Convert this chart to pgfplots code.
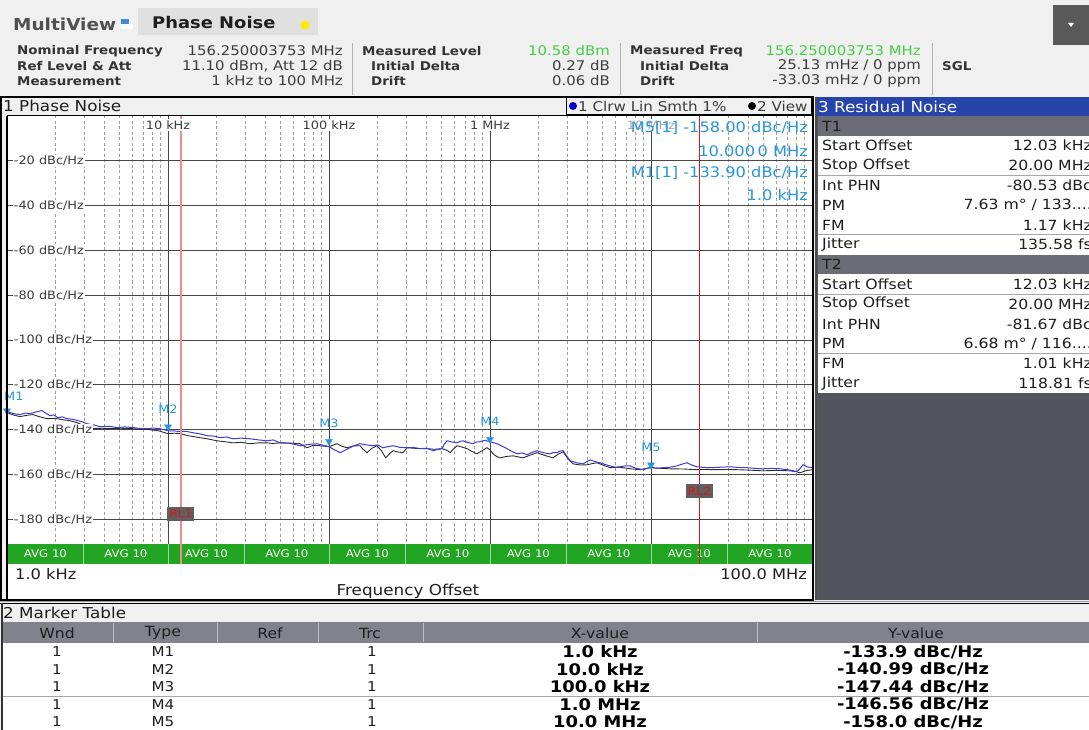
\documentclass[border=0pt]{standalone}
\usepackage{fontspec}
\setmainfont{DejaVu Sans}[FakeStretch=1.12]
\usepackage{pgfplots}
\usepackage{pgfplotstable}
\pgfplotsset{compat=1.18}
\newcommand{\fs}[1]{\fontsize{#1}{#1}\selectfont}
\definecolor{bg}{RGB}{240,240,240}
\definecolor{tabbg}{RGB}{224,224,224}
\definecolor{mvgray}{RGB}{80,80,80}
\definecolor{txt}{RGB}{30,30,30}
\definecolor{val}{RGB}{60,60,60}
\definecolor{grn}{RGB}{70,205,70}
\definecolor{resblue}{RGB}{38,68,170}
\definecolor{hdrgray}{RGB}{108,108,118}
\definecolor{panelgray}{RGB}{84,84,94}
\definecolor{avg}{RGB}{34,165,34}
\definecolor{mk}{RGB}{40,150,220}
\definecolor{tr1}{RGB}{60,60,220}
\definecolor{tr2}{RGB}{45,45,45}
\definecolor{pinkred}{RGB}{240,140,140}
\definecolor{rlred}{RGB}{215,25,25}
\definecolor{rlbox}{RGB}{95,95,95}

\pgfplotstableread{
f v
1000 -132.0
1100 -132.9
1204 -133.3
1300 -132.6
1390 -132.9
1500 -132.2
1650 -131.5
1750 -132.8
1849 -133.8
1950 -133.4
2074 -134.7
2200 -134.3
2359 -135.1
2550 -135.4
2761 -136.0
2950 -136.6
3140 -137.4
3450 -137.9
3781 -138.7
4300 -138.5
4823 -139.1
5400 -138.8
6062 -139.1
6700 -139.5
7405 -139.6
8100 -139.3
8918 -139.6
10000 -140.5
11000 -140.6
11870 -140.9
13000 -140.8
14300 -141.4
15800 -141.9
17470 -142.7
19200 -142.9
21040 -143.6
23000 -143.3
25330 -144.1
28500 -143.8
32300 -144.1
36500 -144.6
41200 -145.0
45000 -144.6
49630 -145.9
57000 -146.1
66060 -147.2
75000 -146.6
84220 -146.3
92000 -147.0
100000 -147.6
108000 -149.0
117000 -150.3
126000 -149.2
135000 -148.1
145000 -147.0
155800 -146.3
170000 -146.8
187600 -147.2
200000 -146.8
216500 -148.1
232000 -147.6
249800 -147.2
275000 -147.9
305100 -148.1
335000 -148.0
367600 -148.5
405000 -148.3
442600 -149.4
475000 -148.9
503400 -148.5
520000 -146.5
540700 -145.0
580000 -145.5
623700 -145.9
650000 -145.3
679600 -145.0
730000 -145.8
784400 -146.3
820000 -145.6
866800 -145.4
930000 -144.8
1000000 -145.4
1105000 -146.3
1190000 -147.4
1275000 -148.5
1370000 -149.8
1472000 -150.8
1580000 -150.4
1698000 -151.2
1820000 -150.2
1959000 -149.4
2045000 -149.9
2200000 -150.5
2359000 -150.8
2480000 -150.2
2607000 -150.3
2720000 -149.6
2841000 -149.4
2980000 -151.5
3140000 -153.9
3450000 -154.8
3781000 -155.3
4180000 -153.5
4500000 -154.3
4823000 -154.8
5200000 -155.6
5564000 -156.2
6000000 -156.8
6419000 -156.6
6900000 -156.2
7405000 -156.2
8100000 -157.3
8918000 -157.9
9500000 -157.2
10000000 -156.8
10900000 -157.3
11870000 -157.0
13100000 -156.8
14500000 -156.2
15600000 -155.4
16740000 -154.8
18000000 -155.9
19310000 -156.6
21200000 -156.9
23260000 -157.0
27000000 -156.8
30950000 -156.6
35000000 -156.9
39470000 -157.0
44000000 -157.3
49630000 -157.5
56000000 -157.3
63270000 -157.5
72000000 -158.0
80700000 -158.8
84000000 -157.5
87930000 -155.7
93000000 -156.6
100000000 -157.0
}\traceone

\pgfplotstableread{
f v
1000 -132.4
1100 -133.5
1204 -134.2
1330 -133.6
1450 -133.3
1600 -134.3
1772 -135.1
2000 -135.0
2228 -135.6
2450 -136.0
2722 -136.9
3050 -138.4
3421 -139.6
3900 -139.4
4363 -139.6
5100 -139.4
6062 -139.6
6900 -139.8
7730 -140.0
8800 -140.6
10000 -141.8
11000 -141.6
11870 -141.8
13500 -142.8
15800 -143.6
17800 -144.2
20150 -145.0
22500 -145.4
25330 -145.9
28500 -145.7
32300 -146.3
36500 -145.9
41200 -145.9
45000 -146.2
49630 -145.9
57000 -146.0
66060 -146.3
73000 -148.1
80000 -147.0
87900 -147.2
100000 -147.6
112100 -146.3
120000 -147.4
129300 -148.1
142000 -147.3
155800 -147.2
163000 -148.8
172200 -150.3
185000 -148.3
198700 -147.2
212000 -149.5
225000 -152.6
240000 -150.5
250000 -149.4
268000 -150.0
288100 -150.3
305100 -148.1
350000 -148.4
406200 -148.5
450000 -148.8
503400 -148.5
540000 -149.2
564300 -150.3
595000 -148.6
623700 -147.2
670000 -147.8
719500 -148.5
775000 -149.8
830000 -150.8
890000 -149.5
957000 -148.1
1000000 -149.0
1044000 -150.8
1100000 -152.0
1153000 -152.6
1260000 -152.0
1390000 -151.7
1500000 -152.2
1603000 -152.6
1760000 -151.5
1959000 -150.3
2045000 -150.8
2250000 -151.8
2461000 -152.6
2650000 -151.0
2841000 -149.9
3050000 -153.0
3278000 -155.3
3650000 -155.8
4004000 -155.7
4300000 -155.2
4620000 -154.8
5100000 -156.0
5564000 -157.0
6100000 -156.8
6700000 -157.0
7500000 -157.5
8550000 -157.9
9300000 -157.4
10000000 -157.0
11500000 -157.3
13120000 -157.5
16000000 -157.6
19310000 -157.9
22000000 -157.8
25700000 -157.9
30000000 -157.8
34200000 -157.9
41000000 -158.1
49630000 -158.4
60000000 -158.2
73000000 -158.4
80000000 -158.8
84000000 -159.3
92000000 -158.3
100000000 -157.9
}\tracetwo

\pgfplotstableread{
f v lab
10000 -140.99 M2
100000 -147.44 M3
1000000 -146.56 M4
10000000 -158.0 M5
}\markers

\pgfplotstableread{
f v lab
1000 -133.9 M1
}\markerone

\newcommand\rrow[3]{%
  \fill[white] (818,{-#1}) rectangle (1089,{-#1-19.8});
  \node[anchor=west,inner sep=0,font=\fs{14},text=txt] at (822,{-#1-9.9}) {#2};
  \node[anchor=east,inner sep=0,font=\fs{14},text=txt] at (1092,{-#1-9.9}) {#3};}
\newcommand\hrow[2]{%
  \fill[hdrgray] (818,{-#1}) rectangle (1089,{-#1-19.8});
  \node[anchor=west,inner sep=0,font=\fs{14},text=txt] at (822,{-#1-9.9}) {#2};}

\begin{document}
\begin{tikzpicture}[x=1pt,y=1pt]
\useasboundingbox (0,0) rectangle (1089,-730);
\clip (0,0) rectangle (1089,-730);
\fill[bg] (0,0) rectangle (1089,-730);

% ---------- top bar ----------
\fill[tabbg] (138,-8) rectangle (318,-35);
\node[anchor=west,inner sep=0,font=\bfseries\fs{16.5},text=mvgray] at (13,-24) {MultiView};
\fill[cyan!60!blue!80] (121,-19) rectangle (129,-24);
\fill[white] (121,-24) rectangle (133,-29);
\node[anchor=west,inner sep=0,font=\bfseries\fs{16},text=txt] at (152,-23) {Phase Noise};
\fill[yellow!95!orange] (305,-25) circle (4.5);
\fill[black!65] (1053,-5) rectangle (1089,-45);
\fill[white] (1068,-23) -- (1074,-23) -- (1071,-27) -- cycle;

% ---------- header info ----------
\tikzset{lab/.style={anchor=west,inner sep=0,font=\bfseries\fs{12},text=black!80},
         vl/.style={anchor=east,inner sep=0,font=\fs{13.3},text=val}}
\node[lab] at (17,-51) {Nominal Frequency};
\node[lab] at (17,-66) {Ref Level \& Att};
\node[lab] at (17,-81) {Measurement};
\node[vl] at (343,-51) {156.250003753 MHz};
\node[vl] at (343,-66) {11.10 dBm, Att 12 dB};
\node[vl] at (343,-81) {1 kHz to 100 MHz};
\draw[gray!60,line width=0.8pt] (352,-43) -- (352,-95);
\node[lab] at (362,-51) {Measured Level};
\node[lab] at (371,-66) {Initial Delta};
\node[lab] at (371,-81) {Drift};
\node[vl,text=grn] at (610,-51) {10.58 dBm};
\node[vl] at (610,-66) {0.27 dB};
\node[vl] at (610,-81) {0.06 dB};
\draw[gray!60,line width=0.8pt] (620,-43) -- (620,-95);
\node[lab] at (630,-51) {Measured Freq};
\node[lab] at (640,-66) {Initial Delta};
\node[lab] at (640,-81) {Drift};
\node[vl,text=grn] at (921,-51) {156.250003753 MHz};
\node[vl] at (921,-66) {25.13 mHz / 0 ppm};
\node[vl] at (921,-81) {-33.03 mHz / 0 ppm};
\draw[gray!60,line width=0.8pt] (932,-43) -- (932,-95);
\node[lab] at (942,-66) {SGL};

% ---------- plot window ----------
\fill[white] (7,-116) rectangle (812,-600);
\node[anchor=west,inner sep=0,font=\fs{15},text=txt] at (3,-106) {1 Phase Noise};
\draw[black,line width=1pt] (566,-98) rectangle (811,-115);
\fill[blue!80!black] (573,-106) circle (4);
\node[anchor=west,inner sep=0,font=\fs{13.5},text=val] at (578,-106) {1 Clrw Lin Smth 1\%};
\fill[black] (752,-106) circle (4);
\node[anchor=west,inner sep=0,font=\fs{13.5},text=val] at (757,-106) {2 View};

\begin{axis}[
  at={(7pt,-116pt)}, anchor=north west,
  scale only axis, width=805pt, height=448pt,
  xmode=log, xmin=1e3, xmax=1e8, ymin=-200, ymax=0,
  xtick={1e3,1e4,1e5,1e6,1e7,1e8},
  minor xtick={2e3,3e3,4e3,5e3,6e3,7e3,8e3,9e3,2e4,3e4,4e4,5e4,6e4,7e4,8e4,9e4,2e5,3e5,4e5,5e5,6e5,7e5,8e5,9e5,2e6,3e6,4e6,5e6,6e6,7e6,8e6,9e6,2e7,3e7,4e7,5e7,6e7,7e7,8e7,9e7},
  ytick={-180,-160,-140,-120,-100,-80,-60,-40,-20},
  xticklabels={}, yticklabels={},
  major tick length=0pt, minor tick length=0pt,
  xmajorgrids, ymajorgrids, xminorgrids,
  major grid style={black!72, line width=0.8pt},
  minor grid style={black!38, line width=0.6pt, dash pattern=on 3pt off 2.5pt},
  axis line style={draw=none},
  clip=false,
]
% AVG bar
\fill[avg] (axis cs:1e3,-191.1) rectangle (axis cs:1e8,-200);
\pgfplotsinvokeforeach{3e3,1e4,3e4,1e5,3e5,1e6,3e6,1e7,3e7}{
  \draw[white!55!avg, line width=0.8pt] (axis cs:#1,-191.1) -- (axis cs:#1,-200);
}
\pgfplotsinvokeforeach{1732,5477,17320,54770,173200,547700,1732000,5477000,17320000,54770000}{
  \node[font=\fs{10.5},text=white,inner sep=0] at (axis cs:#1,-195.5) {AVG 10};
}

\addplot[tr2, line width=0.9pt] table[x=f,y=v] {\tracetwo};
\addplot[tr1, line width=1pt] table[x=f,y=v] {\traceone};

\addplot[pinkred, line width=1.6pt] coordinates {(12030,0) (12030,-200)};
\addplot[rlred, line width=0.7pt] coordinates {(2e7,0) (2e7,-200)};
\node[fill=rlbox,text=rlred,font=\fs{11},inner sep=0,minimum width=27pt,minimum height=14pt] at (axis cs:12030,-177.6) {RL1};
\node[fill=rlbox,text=rlred,font=\fs{11},inner sep=0,minimum width=27pt,minimum height=14pt] at (axis cs:2e7,-167.4) {RL2};

% markers
\addplot[only marks, mark=triangle*, mark size=4pt, color=mk,
  mark options={yshift=5pt, rotate=180},
  point meta=explicit symbolic, nodes near coords,
  nodes near coords style={anchor=south, yshift=13.5pt, font=\fs{11.5}, text=mk, inner sep=0pt}]
  table[x=f,y=v,meta=lab] {\markers};
\addplot[only marks, mark=triangle*, mark size=4pt, color=mk,
  mark options={yshift=5pt, rotate=180},
  point meta=explicit symbolic, nodes near coords,
  nodes near coords style={anchor=south west, yshift=10.5pt, xshift=-3pt, font=\fs{11.5}, text=mk, inner sep=0pt}]
  table[x=f,y=v,meta=lab] {\markerone};

% y tick labels
\pgfplotsinvokeforeach{-20,-40,-60,-80,-100,-120,-140,-160,-180}{
  \node[anchor=west,fill=white,inner xsep=1pt,inner ysep=1pt,font=\fs{11.5},text=val] at (axis cs:1085,#1) {#1 dBc/Hz};
}
% x tick labels
\node[fill=white,inner sep=1.5pt,font=\fs{11.5},text=val] at (axis cs:1e4,-4) {10 kHz};
\node[fill=white,inner sep=1.5pt,font=\fs{11.5},text=val] at (axis cs:1e5,-4) {100 kHz};
\node[fill=white,inner sep=1.5pt,font=\fs{11.5},text=val] at (axis cs:1e6,-4) {1 MHz};
\node[fill=white,inner sep=1.5pt,font=\fs{11.5},text=black!35] at (axis cs:1e7,-4) {10 MHz};
\end{axis}

% marker readouts
\node[anchor=east,inner sep=0,font=\fs{14.5},text=mk] at (808,-128) {M5[1] -158.00 dBc/Hz};
\node[anchor=east,inner sep=0,font=\fs{14.5},text=mk] at (808,-151) {10.000\,0 MHz};
\node[anchor=east,inner sep=0,font=\fs{14.5},text=mk] at (808,-173) {M1[1] -133.90 dBc/Hz};
\node[anchor=east,inner sep=0,font=\fs{14.5},text=mk] at (808,-195) {1.0 kHz};

\node[anchor=west,inner sep=0,font=\fs{14.5},text=txt] at (15,-574) {1.0 kHz};
\node[anchor=east,inner sep=0,font=\fs{14.5},text=txt] at (807,-574) {100.0 MHz};
\node[inner sep=0,font=\fs{15},text=txt] at (408,-591) {Frequency Offset};

\draw[black,line width=1pt] (7,-116) -- (812,-116);
\draw[black,line width=1.6pt] (1,-97) rectangle (813,-600);
\draw[black,line width=1.4pt] (7,-116) -- (7,-600);

% ---------- residual noise panel ----------
\fill[panelgray] (815,-97) rectangle (1089,-600);
\fill[resblue] (815,-97) rectangle (1089,-116);
\node[anchor=west,inner sep=0,font=\fs{15},text=white] at (818,-106.5) {3 Residual Noise};
\hrow{116}{T1}
\rrow{135.8}{Start Offset}{12.03 kHz}
\rrow{155.6}{Stop Offset}{20.00 MHz}
\rrow{175.4}{Int PHN}{-80.53 dBc}
\rrow{195.2}{PM}{7.63 m° / 133....}
\rrow{215}{FM}{1.17 kHz}
\rrow{234.8}{Jitter}{135.58 fs}
\hrow{254.6}{T2}
\rrow{274.4}{Start Offset}{12.03 kHz}
\rrow{294.2}{Stop Offset}{20.00 MHz}
\rrow{314}{Int PHN}{-81.67 dBc}
\rrow{333.8}{PM}{6.68 m° / 116....}
\rrow{353.6}{FM}{1.01 kHz}
\rrow{373.4}{Jitter}{118.81 fs}
\foreach \yy in {175.4,234.8,294.2,353.6}
  \draw[black!35,line width=0.7pt] (818,-\yy) -- (1089,-\yy);
\draw[black!70,line width=1.2pt] (816,-97) -- (816,-600);

% ---------- marker table ----------
\draw[black!40,line width=0.8pt] (0,-601) -- (1089,-601);
\draw[black,line width=1pt] (0,-603) -- (1089,-603);
\node[anchor=west,inner sep=0,font=\fs{15},text=txt] at (3,-613) {2 Marker Table};
\fill[hdrgray!85] (2,-622) rectangle (1089,-643);
\foreach \xx in {113,217,318,423,757}
  \draw[black!25,line width=0.8pt] (\xx,-623) -- (\xx,-642);
\tikzset{th/.style={inner sep=0,font=\fs{14},text=txt}}
\node[th] at (57,-633) {Wnd};
\node[th] at (163,-633) {Type};
\node[th] at (270,-633) {Ref};
\node[th] at (370,-633) {Trc};
\node[th] at (600,-633) {X-value};
\node[th] at (916,-633) {Y-value};
\fill[white] (2,-643) rectangle (1089,-730);
\draw[black!35,line width=0.8pt] (2,-696) -- (1089,-696);
\draw[black!80,line width=1.4pt] (2,-603) -- (2,-730);
\tikzset{td/.style={inner sep=0,font=\fs{13.5},text=txt},
         tb/.style={inner sep=0,font=\bfseries\fs{16},text=black}}
\foreach \yy/\m in {652/M1, 669.5/M2, 687/M3, 704.5/M4, 722/M5}{
  \node[td] at (57,-\yy) {1};
  \node[td] at (163,-\yy) {\m};
  \node[td] at (372,-\yy) {1};
}
\node[tb] at (600,-652) {1.0 kHz};
\node[tb] at (600,-669.5) {10.0 kHz};
\node[tb] at (600,-687) {100.0 kHz};
\node[tb] at (600,-704.5) {1.0 MHz};
\node[tb] at (600,-722) {10.0 MHz};
\node[tb] at (913,-652) {-133.9 dBc/Hz};
\node[tb] at (913,-669.5) {-140.99 dBc/Hz};
\node[tb] at (913,-687) {-147.44 dBc/Hz};
\node[tb] at (913,-704.5) {-146.56 dBc/Hz};
\node[tb] at (913,-722) {-158.0 dBc/Hz};
\end{tikzpicture}
\end{document}
